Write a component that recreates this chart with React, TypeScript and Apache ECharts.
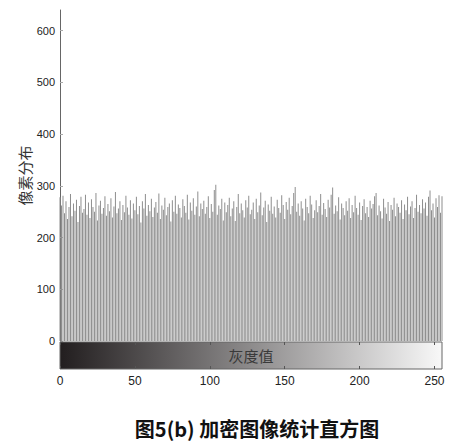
import React, { useEffect, useRef } from "react";
import * as echarts from "echarts";

const grayLevels: number[] = Array.from({ length: 256 }, (_, i) => i);
const pixelCounts: number[] = [
  278, 262, 281, 247, 270, 236, 259, 284, 241, 266, 252, 273, 230, 261, 279, 248,
  255, 283, 244, 268, 238, 274, 259, 250, 286, 233, 262, 271, 246, 257, 280, 242,
  265, 251, 276, 239, 260, 288, 247, 256, 270, 234, 263, 249, 281, 258, 244, 272,
  237, 266, 253, 279, 245, 261, 229, 270, 256, 284, 242, 263, 251, 275, 240, 258,
  269, 248, 285, 236, 262, 254, 277, 243, 259, 266, 231, 272, 250, 281, 246, 264,
  257, 239, 274, 261, 248, 283, 235, 268, 252, 276, 244, 260, 289, 241, 266, 255,
  271, 246, 259, 280, 238, 265, 250, 292, 302, 244, 262, 255, 275, 233, 268, 249,
  263, 277, 241, 256, 270, 232, 259, 284, 247, 266, 253, 239, 272, 258, 281, 245,
  254, 268, 236, 275, 249, 262, 287, 243, 258, 271, 230, 264, 252, 279, 246, 260,
  239, 273, 257, 248, 282, 263, 236, 269, 254, 277, 245, 261, 286, 298, 250, 266,
  242, 270, 256, 233, 275, 259, 247, 281, 264, 238, 253, 272, 249, 261, 284, 244,
  267, 255, 240, 273, 258, 283, 297, 246, 262, 251, 278, 235, 266, 257, 243, 270,
  252, 276, 238, 263, 249, 281, 257, 244, 268, 234, 261, 274, 247, 259, 240, 271,
  256, 265, 280, 286, 243, 262, 251, 237, 275, 258, 246, 269, 232, 263, 254, 277,
  241, 266, 259, 248, 272, 236, 264, 253, 279, 245, 260, 270, 238, 257, 283, 250,
  263, 247, 274, 256, 268, 242, 279, 291, 253, 266, 239, 276, 259, 282, 248, 280,
];
const yTicks: number[] = [0, 100, 200, 300, 400, 500, 600];
const xTicks: number[] = [0, 50, 100, 150, 200, 250];
const colorbarRange: number[] = [0, 255];

const yAxisName = "像素分布";
const xAxisName = "灰度值";
const titleText = "图5(b) 加密图像统计直方图";

export default function App() {
  const ref = useRef<HTMLDivElement>(null);
  useEffect(() => {
    document.body.style.margin = "0";
    if (!ref.current) return;
    const chart = echarts.init(ref.current, null, { renderer: "svg" });
    const labelFont = "'Liberation Sans', Arial, sans-serif";
    chart.setOption({
      animation: false,
      backgroundColor: "#ffffff",
      title: {
        text: titleText,
        left: 252,
        top: 413,
        textAlign: "center",
        textStyle: {
          fontFamily: "'Noto Sans CJK SC', sans-serif",
          fontSize: 20,
          fontWeight: "bold",
          color: "#111111",
        },
      },
      grid: [
        { left: 60, top: 10, width: 382, height: 331 },
        { left: 60, top: 342, width: 382, height: 27 },
      ],
      xAxis: [
        {
          gridIndex: 0,
          type: "value",
          min: 0,
          max: 255,
          show: false,
        },
        {
          gridIndex: 1,
          type: "value",
          min: 0,
          max: 255,
          interval: 50,
          position: "bottom",
          z: 10,
          axisLine: { show: false },
          axisTick: {
            show: true,
            inside: true,
            length: 3,
            lineStyle: { color: "#555555" },
            customValues: xTicks,
          },
          axisLabel: {
            margin: 6,
            fontFamily: labelFont,
            fontSize: 12,
            color: "#222222",
            customValues: xTicks,
          },
          splitLine: { show: false },
          name: xAxisName,
          nameLocation: "middle",
          nameGap: -14,
          nameMoveOverlap: false,
          nameTextStyle: {
            fontFamily: "'Noto Sans CJK SC', serif",
            fontSize: 15,
            color: "#3a3a3a",
            verticalAlign: "middle",
          },
        },
        {
          gridIndex: 1,
          type: "value",
          min: 0,
          max: 255,
          interval: 50,
          position: "top",
          z: 10,
          axisLine: { show: false },
          axisTick: {
            show: true,
            inside: true,
            length: 3,
            lineStyle: { color: "#555555" },
            customValues: xTicks,
          },
          axisLabel: { show: false },
          splitLine: { show: false },
        },
      ],
      yAxis: [
        {
          gridIndex: 0,
          type: "value",
          min: 0,
          max: 640,
          interval: 100,
          axisLine: { show: true, lineStyle: { color: "#666666", width: 1 } },
          axisTick: {
            show: true,
            inside: true,
            length: 3,
            lineStyle: { color: "#aaaaaa" },
            customValues: yTicks,
          },
          axisLabel: {
            margin: 5,
            fontFamily: labelFont,
            fontSize: 11,
            color: "#222222",
            customValues: yTicks,
          },
          splitLine: { show: false },
          name: yAxisName,
          nameLocation: "middle",
          nameGap: 28,
          nameRotate: 90,
          nameMoveOverlap: false,
          nameTextStyle: {
            fontFamily: "'Noto Sans CJK SC', serif",
            fontSize: 15,
            color: "#333333",
          },
        },
        {
          gridIndex: 1,
          type: "value",
          min: 0,
          max: 1,
          show: false,
        },
      ],
      series: [
        {
          type: "bar",
          xAxisIndex: 0,
          yAxisIndex: 0,
          data: grayLevels.map((g, i) => [g, pixelCounts[i]]),
          barWidth: 1,
          itemStyle: { color: "#8e8e8e" },
          silent: true,
        },
        {
          type: "custom",
          xAxisIndex: 1,
          yAxisIndex: 1,
          data: [[colorbarRange[0], colorbarRange[1]]],
          renderItem: (params: any, api: any) => {
            const p0 = api.coord([api.value(0), 0]);
            const p1 = api.coord([api.value(1), 1]);
            return {
              type: "rect",
              shape: {
                x: p0[0],
                y: p1[1],
                width: p1[0] - p0[0],
                height: p0[1] - p1[1],
              },
              style: {
                fill: new echarts.graphic.LinearGradient(0, 0, 1, 0, [
                  { offset: 0, color: "#221e1f" },
                  { offset: 1, color: "#f8f8f8" },
                ]),
                stroke: "#666666",
                lineWidth: 1,
              },
            };
          },
          silent: true,
          z: 1,
        },
      ],
    });
    return () => chart.dispose();
  }, []);
  return <div ref={ref} style={{ width: 462, height: 445 }} />;
}
